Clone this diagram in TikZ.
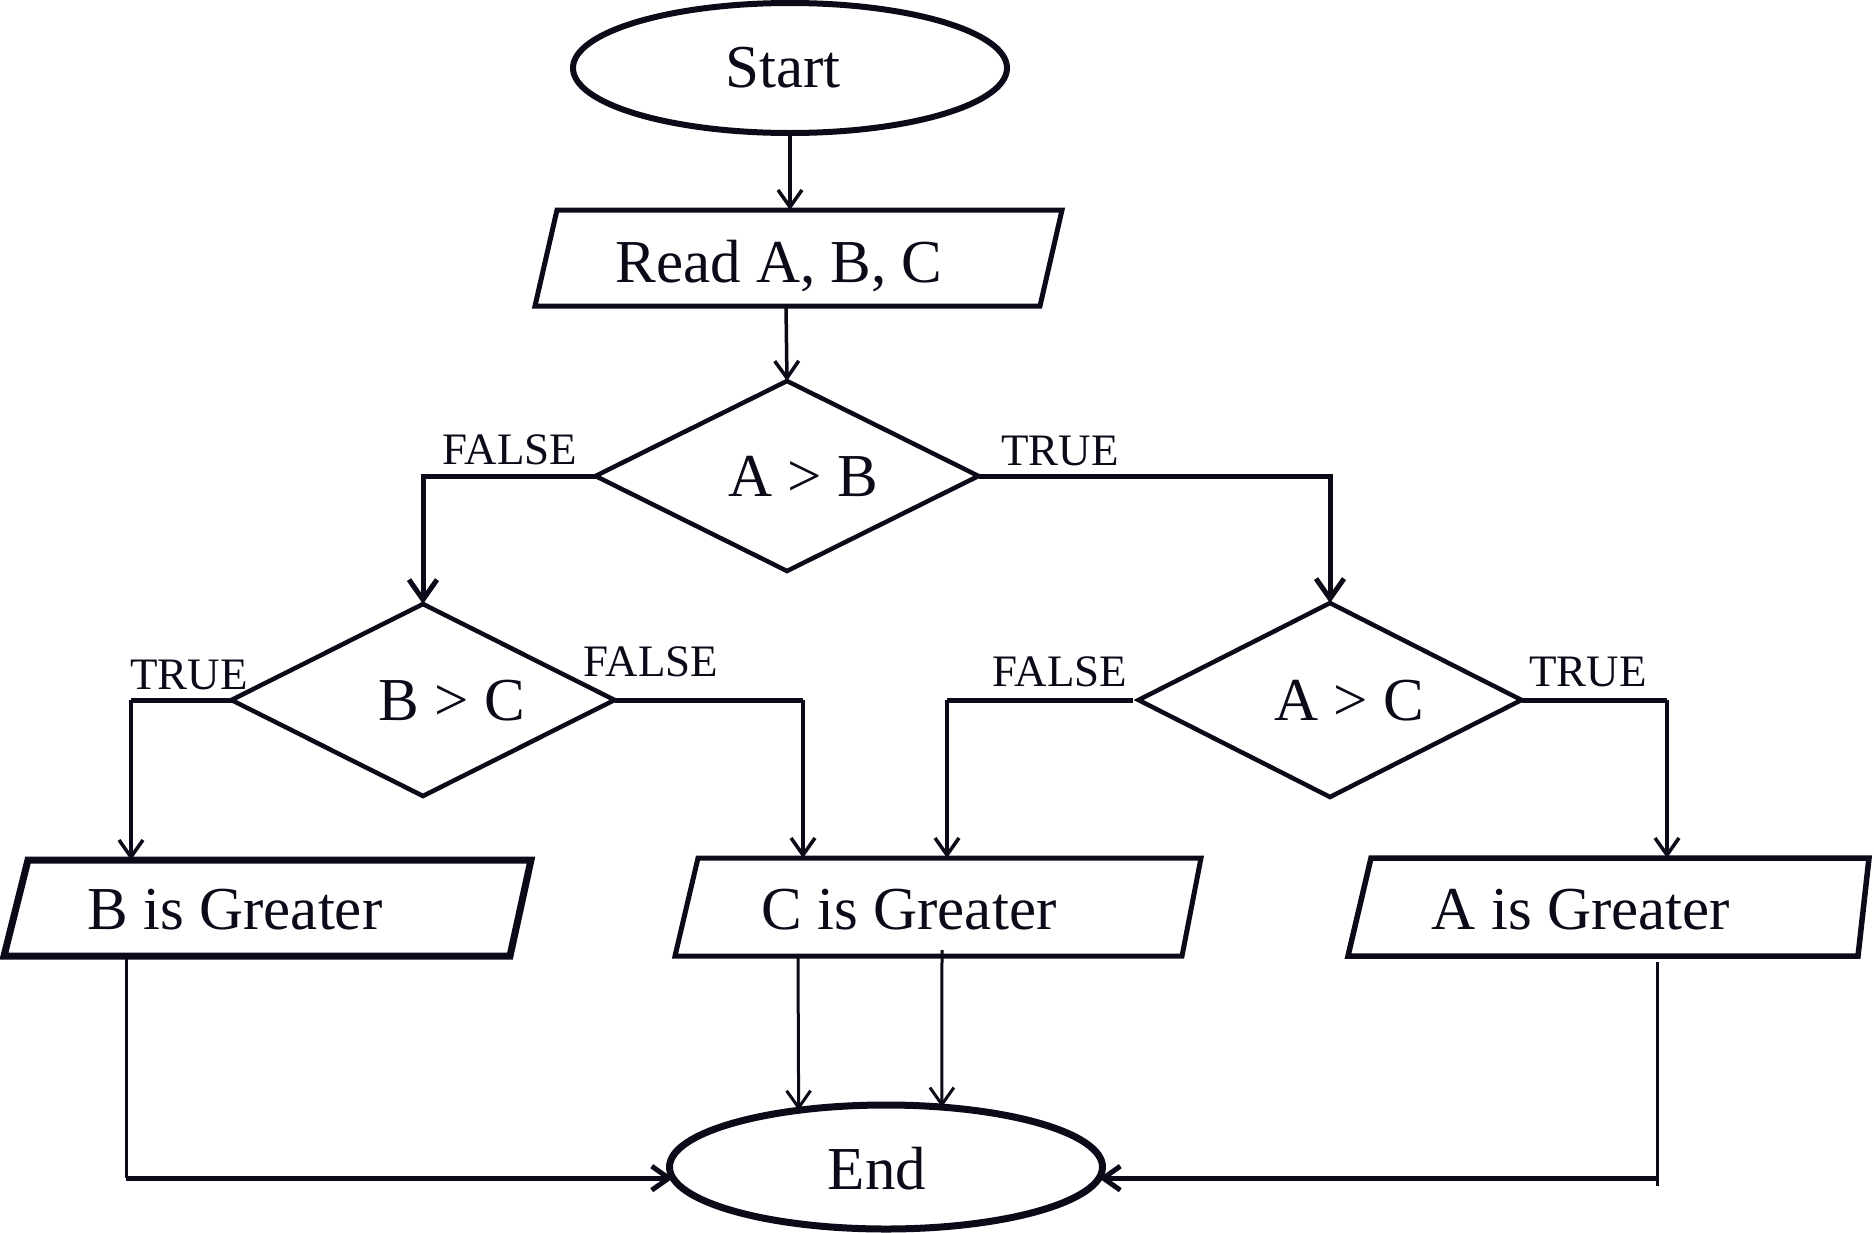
\documentclass[tikz,border=0pt]{standalone}
\usepackage{fontspec}
\setmainfont{Liberation Serif}
\usetikzlibrary{arrows.meta,shapes.geometric}
\definecolor{ink}{RGB}{10,10,24}
\begin{document}
\begin{tikzpicture}[x=1pt,y=-1pt, color=ink,
  >={Straight Barb[length=17pt,width=24pt]},
  term/.style={ellipse, draw=ink, line width=6pt, inner sep=0pt, outer sep=0pt},
  decision/.style={diamond, draw=ink, line width=4.5pt, inner sep=0pt, outer sep=0pt,
                   minimum width=383pt, minimum height=190pt},
  iobox/.style={draw=ink, line width=5pt, line join=miter},
  txt/.style={anchor=base, inner sep=0pt, text=ink, font=\fontsize{61}{70}\selectfont},
  lbl/.style={anchor=base, inner sep=0pt, text=ink, font=\fontsize{45}{52}\selectfont},
  flow/.style={draw=ink, line width=3.5pt, ->},
  bigflow/.style={draw=ink, line width=5pt, -{Straight Barb[length=20pt,width=28pt]}},
  branch/.style={draw=ink, line width=5pt},
  thinline/.style={draw=ink, line width=3pt},
]
\useasboundingbox (0,0) rectangle (1874,1232);

% terminals
\node[term, minimum width=434pt, minimum height=130pt] (start) at (790,68) {};
\node[txt] (starttxt) at (783,87) {Start};
\node[term, line width=7pt, minimum width=433pt, minimum height=124pt] (stop) at (886,1167) {};
\node[txt] (stoptxt) at (877,1189) {End};

% input box
\draw[iobox] (557,210) -- (1062,210) -- (1040,306) -- (535,306) -- cycle;
\node[txt] (readtxt) at (779,282) {Read A, B, C};

% decisions
\node[decision] (ab) at (787,476) {};
\node[txt] (abtxt) at (803,496) {A > B};
\node[decision, minimum height=192pt] (bc) at (423,700) {};
\node[txt] (bctxt) at (452,720) {B > C};
\node[decision, minimum height=194pt] (ac) at (1330,700) {};
\node[txt] (actxt) at (1349,720) {A > C};

% output boxes
\draw[iobox, line width=7pt] (28,860) -- (531,860) -- (510,956) -- (4,956) -- cycle;
\node[txt] (bgtxt) at (235,929) {B is Greater};
\draw[iobox] (698,858) -- (1201,858) -- (1182,956) -- (675,956) -- cycle;
\node[txt] (cgtxt) at (909,929) {C is Greater};
\draw[iobox, line width=5.5pt] (1371,858) -- (1869,858) -- (1858,956) -- (1348,956) -- cycle;
\node[txt] (agtxt) at (1581,929) {A is Greater};

% branch labels
\node[lbl] (f1) at (510,464) {FALSE};
\node[lbl] (t1) at (1060,465) {TRUE};
\node[lbl] (t2) at (189,689) {TRUE};
\node[lbl] (f2) at (651,676) {FALSE};
\node[lbl] (f3) at (1060,686) {FALSE};
\node[lbl] (t3) at (1588,686) {TRUE};

% connection points on the slanted boxes
\coordinate (readT) at (790,210);
\coordinate (readB) at (786,306);
\coordinate (bgT) at (131,860);
\coordinate (cgT) at (803,858);
\coordinate (cgT2) at (947,858);
\coordinate (agT) at (1667,858);
\coordinate (bgB) at (126,956);
\coordinate (cgB1) at (798,956);
\coordinate (cgB2) at (942,950);
\coordinate (agB) at (1657,962);
\coordinate (agE) at (1657,1186);

% main flow
\draw[flow] (start.south) -- (readT);
\draw[flow] (readB) -- (ab.north);
\draw[bigflow] (ab.west) -| (bc.north);
\draw[bigflow] (ab.east) -| (ac.north);

% B > C branches
\draw[branch] (bc.west) -- (bgT |- bc.west);
\draw[flow] (bgT |- bc.west) -- (bgT);
\draw[branch] (bc.east) -- (cgT |- bc.east);
\draw[flow] (cgT |- bc.east) -- (cgT);

% A > C branches
\draw[branch] ([xshift=-6pt]ac.west) -- (cgT2 |- ac.west);
\draw[flow] (cgT2 |- ac.west) -- (cgT2);
\draw[branch] (ac.east) -- (agT |- ac.east);
\draw[flow] (agT |- ac.east) -- (agT);

% into End
\draw[thinline] (bgB) -- (bgB |- stop.183);
\draw[branch, ->] (bgB |- stop.183) -- (stop.183);
\draw[thinline, ->] (cgB1) -- (stop.147);
\draw[thinline, ->] (cgB2) -- (stop.47);
\draw[thinline] (agB) -- (agE);
\draw[branch, ->] (agB |- stop.357) -- (stop.357);
\end{tikzpicture}
\end{document}
